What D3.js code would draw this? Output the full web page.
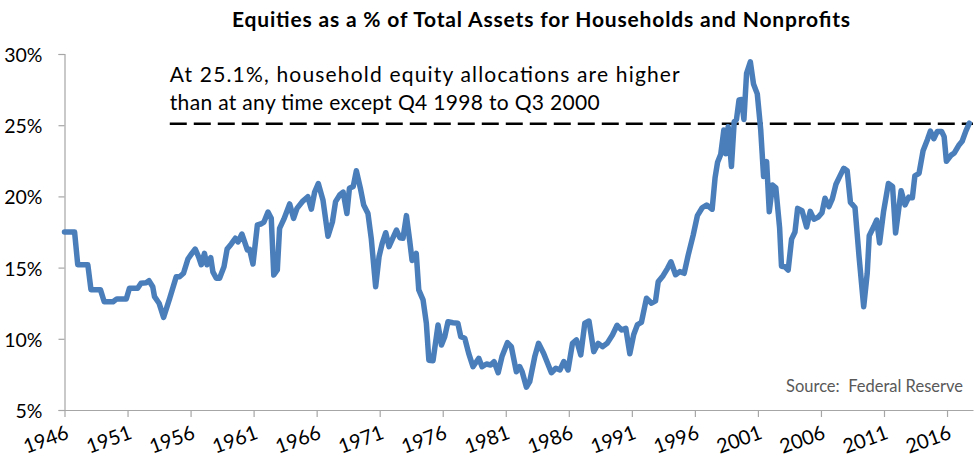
<!DOCTYPE html>
<html>
<head>
<meta charset="utf-8">
<script src="https://cdn.jsdelivr.net/npm/d3@7"></script>
<style>
  html, body { margin: 0; padding: 0; background: #ffffff; }
  svg { display: block; }
</style>
</head>
<body>
<svg id="chart" width="974" height="460"></svg>
<script>
// ---- data ----
const title = "Equities as a % of Total Assets for Households and Nonprofits";
const noteLines = [
  "At 25.1%, household equity allocations are higher",
  "than at any time except Q4 1998 to Q3 2000"
];
const sourceText = "Source:  Federal Reserve";
const currentLevel = 25.1;
const noteStartYear = 1954.35;

const yTickValues = [5, 10, 15, 20, 25, 30];
const xTickYears = [1946, 1951, 1956, 1961, 1966, 1971, 1976, 1981, 1986, 1991, 1996, 2001, 2006, 2011, 2016];

const dates = [
  1946.0, 1946.8, 1947.05, 1947.85, 1948.1, 1948.85, 1949.15, 1949.85, 1950.15, 1950.9,
  1951.15, 1951.8, 1952.07, 1952.48, 1952.7, 1953.0, 1953.14, 1953.5, 1953.86, 1954.33,
  1954.86, 1955.13, 1955.44, 1955.79, 1956.1, 1956.37, 1956.63, 1956.85, 1957.1, 1957.3,
  1957.6, 1957.77, 1958.04, 1958.3, 1958.65, 1958.9, 1959.23, 1959.55, 1959.76, 1960.07,
  1960.28, 1960.5, 1960.68, 1960.95, 1961.3, 1961.56, 1961.82, 1962.14, 1962.4, 1962.6,
  1962.88, 1963.06, 1963.4, 1963.86, 1964.17, 1964.44, 1964.86, 1965.3, 1965.58, 1965.84,
  1966.13, 1966.5, 1966.9, 1967.25, 1967.5, 1967.83, 1968.1, 1968.4, 1968.6, 1968.9,
  1969.15, 1969.47, 1969.73, 1970.07, 1970.33, 1970.68, 1970.95, 1971.2, 1971.48, 1971.74,
  1972.06, 1972.33, 1972.6, 1972.85, 1973.12, 1973.38, 1973.57, 1973.9, 1974.1, 1974.44,
  1974.7, 1974.9, 1975.23, 1975.63, 1975.9, 1976.16, 1976.42, 1976.82, 1977.2, 1977.43,
  1977.75, 1978.06, 1978.4, 1978.86, 1979.12, 1979.47, 1979.8, 1980.07, 1980.4, 1980.7,
  1981.13, 1981.44, 1981.84, 1982.1, 1982.3, 1982.64, 1982.9, 1983.3, 1983.6, 1984.0,
  1984.62, 1984.97, 1985.3, 1985.6, 1985.94, 1986.29, 1986.61, 1986.95, 1987.27, 1987.6,
  1987.98, 1988.33, 1988.67, 1989.04, 1989.46, 1989.83, 1990.18, 1990.52, 1990.84, 1991.15,
  1991.45, 1991.76, 1992.16, 1992.56, 1992.88, 1993.09, 1993.48, 1993.83, 1994.1, 1994.47,
  1994.8, 1995.15, 1995.47, 1995.87, 1996.2, 1996.58, 1996.93, 1997.37, 1997.6, 1997.8,
  1998.05, 1998.3, 1998.46, 1998.64, 1998.9, 1999.12, 1999.3, 1999.5, 1999.7, 1999.89,
  2000.1, 2000.4, 2000.65, 2000.95, 2001.22, 2001.45, 2001.69, 2001.9, 2002.16, 2002.42,
  2002.72, 2002.87, 2003.14, 2003.4, 2003.67, 2003.94, 2004.15, 2004.5, 2004.86, 2005.15,
  2005.44, 2005.79, 2006.08, 2006.32, 2006.63, 2006.9, 2007.19, 2007.5, 2007.81, 2008.08,
  2008.34, 2008.7, 2009.02, 2009.39, 2009.67, 2009.83, 2010.2, 2010.42, 2010.65, 2010.96,
  2011.35, 2011.68, 2011.92, 2012.36, 2012.67, 2012.96, 2013.25, 2013.45, 2013.78, 2014.1,
  2014.45, 2014.68, 2014.95, 2015.22, 2015.58, 2015.77, 2015.95, 2016.33, 2016.58, 2016.92,
  2017.2, 2017.5, 2017.77
];
const equityShare = [
  17.5, 17.5, 15.2, 15.2, 13.45, 13.45, 12.6, 12.6, 12.8, 12.8,
  13.55, 13.55, 13.9, 13.94, 14.08, 13.66, 12.96, 12.5, 11.5, 12.8,
  14.35, 14.36, 14.6, 15.6, 16.0, 16.3, 15.77, 15.2, 16.0, 15.2,
  15.7, 14.7, 14.25, 14.25, 15.06, 16.3, 16.66, 17.06, 16.8, 17.36,
  16.82, 16.24, 16.28, 15.25, 18.0, 18.06, 18.2, 18.9, 18.46, 14.48,
  14.83, 17.76, 18.4, 19.47, 18.46, 19.16, 19.63, 19.98, 19.1, 20.3,
  20.9, 19.75, 17.2, 18.2, 19.63, 20.1, 20.3, 18.8, 20.57, 20.7,
  21.8, 20.57, 19.4, 18.8, 17.06, 13.66, 15.77, 16.7, 17.45, 16.47,
  17.1, 17.64, 17.1, 17.06, 18.65, 16.9, 15.5, 16.0, 13.43, 12.73,
  11.1, 8.5, 8.46, 10.97, 9.57, 10.15, 11.2, 11.13, 11.1, 10.15,
  10.04, 8.98, 8.04, 8.63, 8.04, 8.23, 8.16, 8.4, 7.62, 8.75,
  9.73, 9.45, 7.69, 8.05, 7.69, 6.6, 6.99, 8.75, 9.68, 8.98,
  7.62, 7.93, 7.81, 8.4, 7.81, 9.68, 9.92, 8.87, 11.1, 11.25,
  9.1, 9.68, 9.45, 9.68, 10.27, 10.95, 10.62, 10.74, 8.95, 10.3,
  11.0, 11.15, 12.85, 12.5, 12.66, 14.0, 14.43, 14.95, 15.41, 14.5,
  14.72, 14.6, 15.88, 17.3, 18.65, 19.2, 19.4, 19.1, 21.3, 22.4,
  22.95, 24.67, 23.0, 24.9, 22.1, 25.25, 25.4, 26.77, 26.8, 25.4,
  28.64, 29.45, 27.9, 27.2, 24.7, 21.4, 22.44, 18.93, 20.8, 20.6,
  17.8, 15.1, 15.06, 14.83, 17.0, 17.5, 19.16, 19.0, 17.85, 18.95,
  18.4, 18.55, 18.85, 19.87, 19.28, 19.83, 20.85, 21.42, 21.97, 21.8,
  19.58, 19.22, 15.8, 12.25, 14.6, 17.24, 17.9, 18.34, 16.73, 18.9,
  20.9, 20.7, 17.43, 20.4, 19.4, 19.95, 19.9, 21.45, 21.62, 23.2,
  24.0, 24.58, 24.05, 24.55, 24.55, 24.2, 22.47, 22.9, 23.05, 23.57,
  23.87, 24.6, 25.14
];

// ---- layout ----
const plot = { left: 64.5, right: 973, top: 54, bottom: 410 };
const FONT = "Lato, 'Open Sans', 'DejaVu Sans', sans-serif";
const axisColor = "#a6a6a6";

const svg = d3.select("#chart");

const x = d3.scaleLinear().domain([1946, 2018.06]).range([plot.left, plot.right]);
const y = d3.scaleLinear().domain([5, 30]).range([plot.bottom, plot.top]);

// title
svg.append("text")
  .attr("x", 541).attr("y", 27)
  .attr("text-anchor", "middle")
  .attr("font-family", FONT).attr("font-weight", "bold")
  .attr("font-size", 21).attr("fill", "#000")
  .attr("textLength", 618).attr("lengthAdjust", "spacing")
  .text(title);

// y axis
const yAxis = d3.axisLeft(y).tickValues(yTickValues)
  .tickFormat(d => d + "%").tickSize(6);
const gy = svg.append("g").attr("transform", `translate(${plot.left},0)`).call(yAxis);
gy.select(".domain").attr("stroke", axisColor).attr("stroke-width", 1.2);
gy.selectAll(".tick line").attr("stroke", axisColor).attr("stroke-width", 1.2);
gy.selectAll(".tick text").attr("font-family", FONT).attr("font-size", 19.5)
  .attr("fill", "#000").attr("dy", "0.38em").attr("x", -22);

// x axis
const xAxis = d3.axisBottom(x).tickValues(xTickYears)
  .tickFormat(d3.format("d")).tickSize(7).tickSizeOuter(0);
const gx = svg.append("g").attr("transform", `translate(0,${plot.bottom})`).call(xAxis);
gx.select(".domain").attr("stroke", axisColor).attr("stroke-width", 1.2);
gx.selectAll(".tick line").attr("stroke", axisColor).attr("stroke-width", 1.2);
gx.selectAll(".tick text")
  .attr("font-family", FONT).attr("font-size", 20).attr("fill", "#000")
  .attr("text-anchor", "end")
  .attr("x", 0).attr("y", 0).attr("dy", 0)
  .attr("transform", "translate(5,28) rotate(-20)");

// dashed reference line
svg.append("line")
  .attr("x1", x(noteStartYear)).attr("x2", plot.right)
  .attr("y1", y(currentLevel)).attr("y2", y(currentLevel))
  .attr("stroke", "#000").attr("stroke-width", 2.6)
  .attr("stroke-dasharray", "17,7");

// annotation text
const noteWidths = [510, 430];
svg.append("g").selectAll("text").data(noteLines).join("text")
  .attr("x", x(noteStartYear))
  .attr("y", (d, i) => 82 + i * 28)
  .attr("font-family", FONT).attr("font-size", 21).attr("fill", "#000")
  .attr("textLength", (d, i) => noteWidths[i]).attr("lengthAdjust", "spacing")
  .text(d => d);

// the series line
const series = dates.map((d, i) => ({ t: d, v: equityShare[i] }));
svg.append("path")
  .datum(series)
  .attr("fill", "none")
  .attr("stroke", "#4a7ebb")
  .attr("stroke-width", 5.5)
  .attr("stroke-linejoin", "round")
  .attr("stroke-linecap", "round")
  .attr("d", d3.line().x(d => x(d.t)).y(d => y(d.v)));

// source
svg.append("text")
  .attr("x", 963).attr("y", 392)
  .attr("text-anchor", "end")
  .attr("font-family", FONT).attr("font-size", 16.5).attr("fill", "#595959")
  .style("white-space", "pre")
  .text(sourceText);
</script>
</body>
</html>
